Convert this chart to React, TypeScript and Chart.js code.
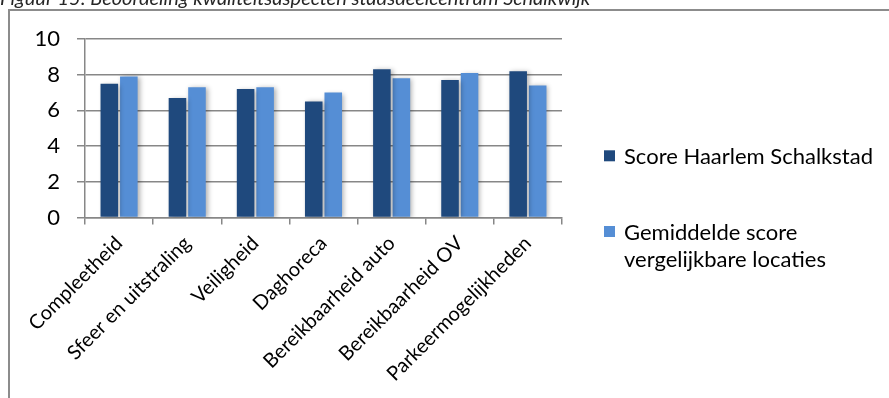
import { useEffect, useRef } from 'react';
import { Chart, registerables } from 'chart.js';

Chart.register(...registerables);

// Quality aspects of the Schalkwijk district centre, scores 0–10
const categories = [
  'Compleetheid',
  'Sfeer en uitstraling',
  'Veiligheid',
  'Daghoreca',
  'Bereikbaarheid auto',
  'Bereikbaarheid OV',
  'Parkeermogelijkheden',
];
const schalkstadScores = [7.5, 6.7, 7.2, 6.5, 8.3, 7.7, 8.2];
const comparableScores = [7.9, 7.3, 7.3, 7.0, 7.8, 8.1, 7.4];
const seriesLabels: string[][] = [
  ['Score Haarlem Schalkstad'],
  ['Gemiddelde score', 'vergelijkbare locaties'],
];
const seriesColors = ['#1F497D', '#558ED5'];
const yTickValues = [0, 2, 4, 6, 8, 10];
const figureTitle = 'Figuur 15: Beoordeling kwaliteitsaspecten stadsdeelcentrum Schalkwijk';

const FONT = 'Lato, "Open Sans", sans-serif';
const GRID = '#878787';

// Soft drop shadow behind the bars
const barShadow = {
  id: 'barShadow',
  beforeDatasetsDraw(chart: any) {
    const c = chart.ctx;
    c.save();
    c.shadowColor = 'rgba(0,0,0,0.32)';
    c.shadowBlur = 5;
    c.shadowOffsetX = 2;
    c.shadowOffsetY = 1;
  },
  afterDatasetsDraw(chart: any) {
    chart.ctx.restore();
  },
};

// Legend at the right with wrapped labels, plus the figure caption at the top
const sideLegend = {
  id: 'sideLegend',
  afterDraw(chart: any) {
    const c = chart.ctx;
    const area = chart.chartArea;
    c.save();

    c.font = `italic 20px ${FONT}`;
    c.fillStyle = '#262626';
    c.textBaseline = 'alphabetic';
    c.textAlign = 'left';
    c.fillText(figureTitle, 0, 4.5);

    c.font = `22px ${FONT}`;
    const boxX = area.right + 42;
    const textX = area.right + 62;
    const firstBaselines = [164.3, 240];
    const lineGap = 26.7;
    chart.data.datasets.forEach((ds: any, i: number) => {
      const base = firstBaselines[i];
      c.fillStyle = ds.backgroundColor;
      c.fillRect(boxX, base - 14, 11, 11);
      c.fillStyle = '#000';
      seriesLabels[i].forEach((line, j) => {
        c.fillText(line, textX, base + j * lineGap);
      });
    });
    c.restore();
  },
};

export default function App() {
  const ref = useRef<HTMLCanvasElement>(null);

  useEffect(() => {
    const canvas = ref.current;
    if (!canvas) return;
    const chart = new Chart(canvas, {
      type: 'bar',
      data: {
        labels: categories,
        datasets: [
          {
            label: seriesLabels[0].join(' '),
            data: schalkstadScores,
            backgroundColor: seriesColors[0],
            borderWidth: 0,
            barPercentage: 0.9,
            categoryPercentage: 0.573,
          },
          {
            label: seriesLabels[1].join(' '),
            data: comparableScores,
            backgroundColor: seriesColors[1],
            borderWidth: 0,
            barPercentage: 0.9,
            categoryPercentage: 0.573,
          },
        ],
      },
      options: {
        responsive: false,
        animation: false,
        devicePixelRatio: 1,
        layout: { padding: { left: 0, top: 39, right: 327, bottom: 0 } },
        plugins: {
          legend: { display: false },
          title: { display: false },
          tooltip: { enabled: false },
        },
        scales: {
          x: {
            grid: {
              offset: true,
              drawOnChartArea: false,
              drawTicks: true,
              tickLength: 7,
              color: GRID,
              lineWidth: 1.5,
            },
            border: { display: true, color: GRID, width: 1.5 },
            ticks: {
              autoSkip: false,
              minRotation: 45,
              maxRotation: 45,
              padding: 7,
              color: '#000',
              font: { family: FONT, size: 20 },
            },
            afterFit(scale: any) {
              scale.height = 180.5;
            },
          },
          y: {
            min: 0,
            max: 10,
            afterBuildTicks(scale: any) {
              scale.ticks = yTickValues.map((v) => ({ value: v }));
            },
            grid: {
              color: GRID,
              lineWidth: 1.5,
              drawTicks: true,
              tickLength: 8,
            },
            border: { display: true, color: GRID, width: 1.5 },
            ticks: {
              padding: 17,
              color: '#000',
              font: { family: FONT, size: 22 },
            },
            afterFit(scale: any) {
              scale.width = 85;
            },
          },
        },
      },
      plugins: [barShadow, sideLegend],
    });
    return () => chart.destroy();
  }, []);

  return (
    <div style={{ position: 'fixed', inset: 0, overflow: 'hidden', background: '#fff' }}>
      <div
        style={{
          position: 'absolute',
          left: 8,
          top: 9,
          width: 1200,
          height: 1200,
          border: '2px solid #8c8c8c',
          boxSizing: 'border-box',
        }}
      />
      <canvas
        ref={ref}
        width={889}
        height={398}
        style={{ position: 'absolute', left: 0, top: 0, width: 889, height: 398 }}
      />
    </div>
  );
}
